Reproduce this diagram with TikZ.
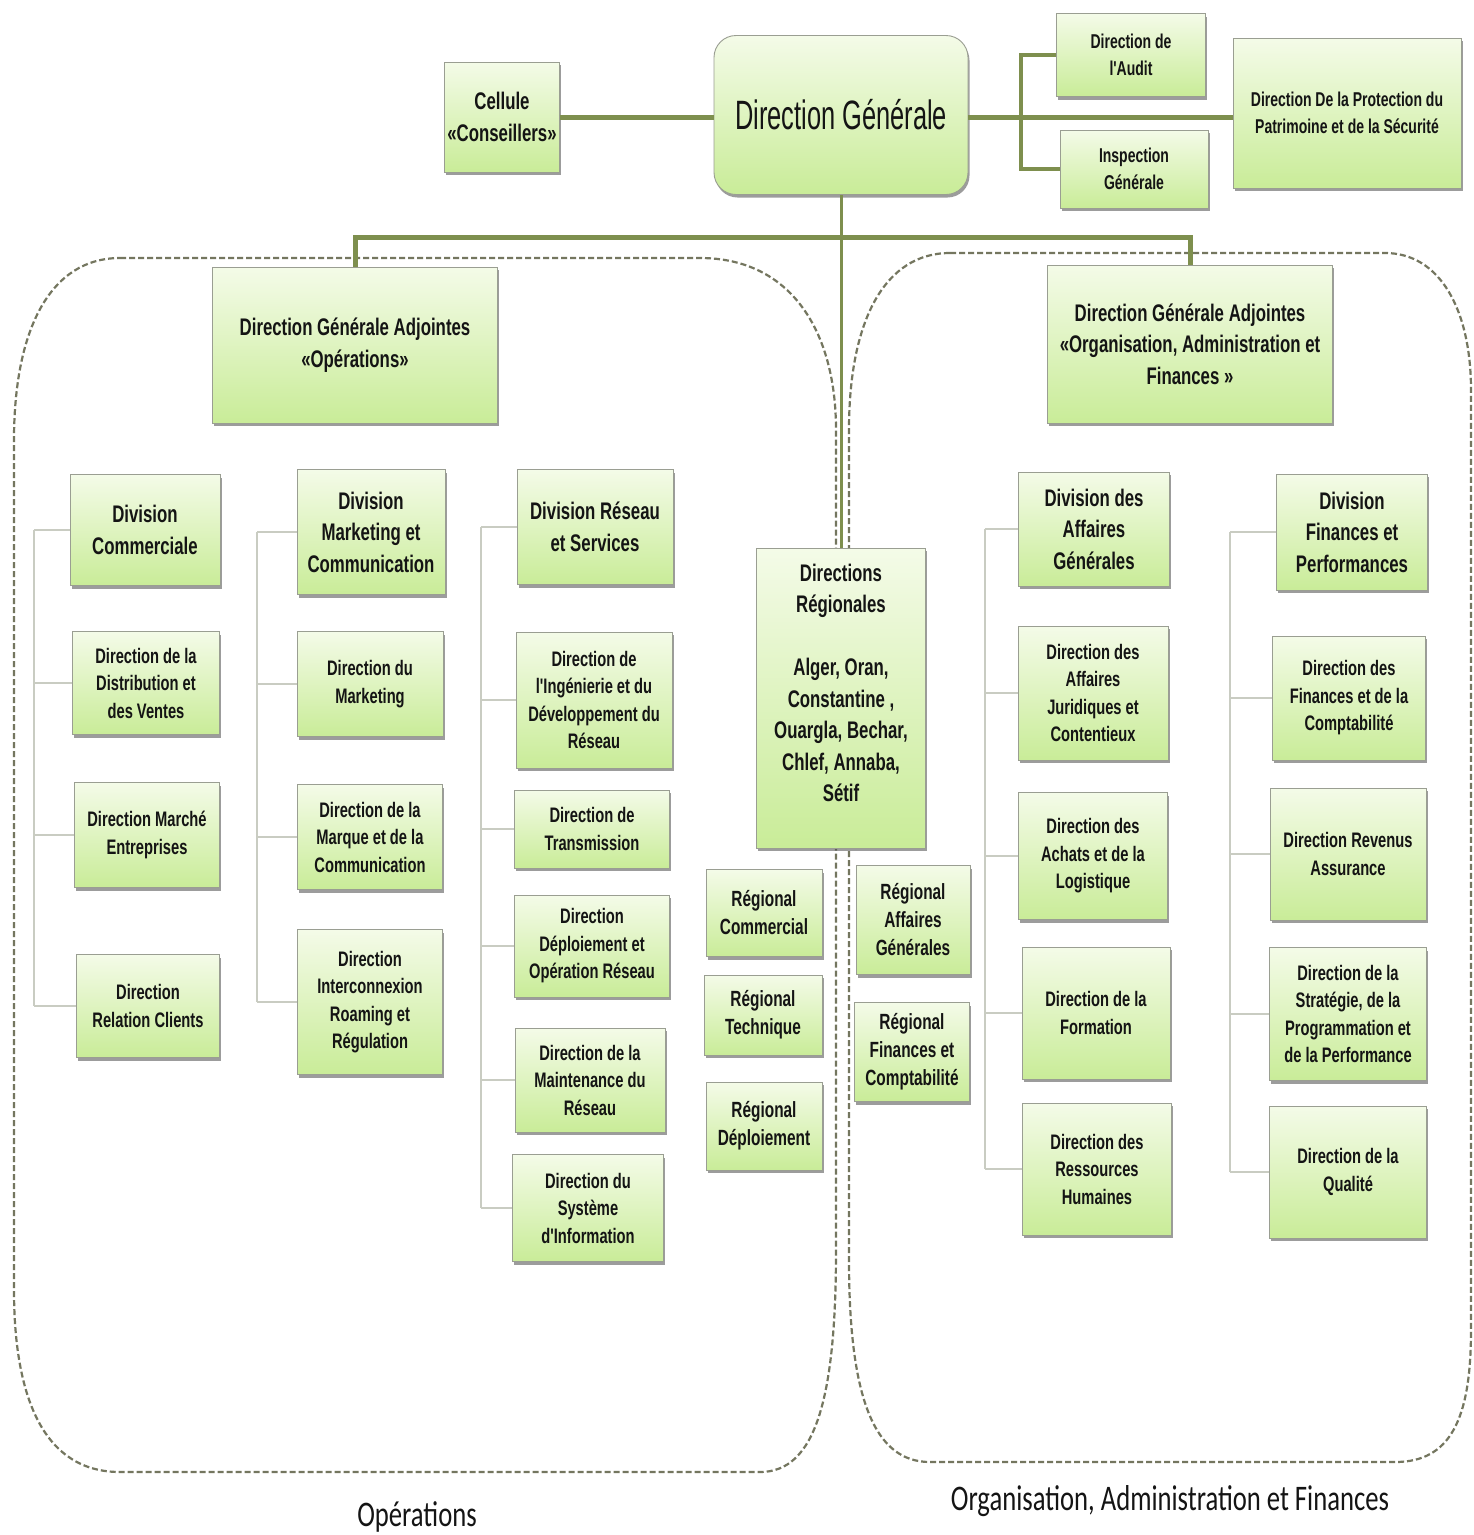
\documentclass[tikz,border=0pt]{standalone}
\usepackage{fontspec}
\setmainfont{Liberation Sans}
\newfontfamily\boxfam{Liberation Sans}[FakeStretch=0.7]
\newfontfamily\dgfam{Liberation Sans}[FakeStretch=0.62]
\newfontfamily\capfam{Carlito}[FakeStretch=0.74]
\usetikzlibrary{shadows}

\definecolor{boxtop}{HTML}{F4FBE8}
\definecolor{boxbot}{HTML}{C9EC98}
\definecolor{boxedge}{HTML}{9A9E92}
\definecolor{inkblack}{HTML}{141414}
\definecolor{linkolive}{HTML}{7E8F4E}
\definecolor{treegray}{HTML}{C9CCC2}
\definecolor{dashgray}{HTML}{74765F}

\tikzset{
  unit/.style={draw=boxedge, line width=0.9pt, top color=boxtop, bottom color=boxbot,
    align=center, text=inkblack, inner sep=2pt,
    drop shadow={shadow xshift=1.5pt, shadow yshift=-3pt, fill=black!70, opacity=0.55}},
  txtL/.style={font=\boxfam\bfseries\fontsize{24}{31.5}\selectfont},
  txtM/.style={font=\boxfam\bfseries\fontsize{22}{28}\selectfont},
  txtS/.style={font=\boxfam\bfseries\fontsize{21}{27.5}\selectfont},
  txtT/.style={font=\boxfam\bfseries\fontsize{20}{27}\selectfont},
  region/.style={draw=dashgray, line width=2.2pt, dash pattern=on 6pt off 3pt},
  heavy/.style={draw=linkolive, line width=5pt},
  medium/.style={draw=linkolive, line width=3.5pt},
  stem/.style={draw=linkolive, line width=3pt},
  tree/.style={draw=treegray, line width=2pt},
  caption/.style={font=\capfam\fontsize{36}{40}\selectfont, text=inkblack}
}

\begin{document}
\begin{tikzpicture}[x=1pt, y=-1pt]
\useasboundingbox (0,0) rectangle (1474,1535);
\fill[white] (0,0) rectangle (1474,1535);

% dashed groupings
\draw[region] (120,258) -- (700,258) .. controls (790,258) and (836,330) .. (836,430)
  -- (836,1250) .. controls (836,1400) and (815,1472) .. (760,1472)
  -- (120,1472) .. controls (45,1472) and (14,1400) .. (14,1290)
  -- (14,440) .. controls (14,330) and (50,258) .. (120,258) -- cycle;
\draw[region] (950,253) -- (1385,253) .. controls (1440,253) and (1471,310) .. (1471,390)
  -- (1471,1330) .. controls (1471,1420) and (1450,1462) .. (1395,1462)
  -- (930,1462) .. controls (875,1462) and (849,1400) .. (849,1260)
  -- (849,430) .. controls (849,320) and (885,253) .. (950,253) -- cycle;

% top level
\node[unit, rounded corners=22pt, minimum width=254, minimum height=159,
  font=\dgfam\fontsize{41}{46}\selectfont] (dg) at (841,115) {Direction Générale};
\node[unit, txtL, minimum width=115, minimum height=110] (cons) at (502,117) {Cellule\\«Conseillers»};
\node[unit, txtT, minimum width=149, minimum height=83] (audit) at (1131,55) {Direction de\\l'Audit};
\node[unit, txtT, minimum width=148, minimum height=78] (insp) at (1134,169) {Inspection\\Générale};
\node[unit, txtT, minimum width=228, minimum height=150] (prot) at (1347,113) {Direction De la Protection du\\Patrimoine et de la Sécurité};

% deputy general directions
\node[unit, txtL, minimum width=285, minimum height=156] (dgaop) at (355,345) {Direction Générale Adjointes\\«Opérations»};
\node[unit, txtL, minimum width=285, minimum height=158] (dgaof) at (1190,344) {Direction Générale Adjointes\\«Organisation, Administration et\\Finances »};

% commercial division
\node[unit, txtL, minimum width=150, minimum height=111] (dc) at (145,530) {Division\\Commerciale};
\node[unit, txtS, minimum width=147, minimum height=103] (ddv) at (146,683) {Direction de la\\Distribution et\\des Ventes};
\node[unit, txtS, minimum width=145, minimum height=105] (dme) at (147,835) {Direction Marché\\Entreprises};
\node[unit, txtS, minimum width=143, minimum height=103] (drc) at (148,1006) {Direction\\Relation Clients};

% marketing division
\node[unit, txtL, minimum width=148, minimum height=125] (dmc) at (371,532) {Division\\Marketing et\\Communication};
\node[unit, txtS, minimum width=146, minimum height=105] (dmk) at (370,684) {Direction du\\Marketing};
\node[unit, txtS, minimum width=145, minimum height=105] (dmq) at (370,837) {Direction de la\\Marque et de la\\Communication};
\node[unit, txtS, minimum width=145, minimum height=145] (dirr) at (370,1002) {Direction\\Interconnexion\\Roaming et\\Régulation};

% network division
\node[unit, txtL, minimum width=156, minimum height=115] (drs) at (595,527) {Division Réseau\\et Services};
\node[unit, txtS, minimum width=156, minimum height=136] (dide) at (594,700) {Direction de\\l'Ingénierie et du\\Développement du\\Réseau};
\node[unit, txtS, minimum width=155, minimum height=78] (dtr) at (592,829) {Direction de\\Transmission};
\node[unit, txtS, minimum width=155, minimum height=102] (ddor) at (592,946) {Direction\\Déploiement et\\Opération Réseau};
\node[unit, txtS, minimum width=150, minimum height=104] (dmr) at (590,1080) {Direction de la\\Maintenance du\\Réseau};
\node[unit, txtS, minimum width=151, minimum height=107] (dsi) at (588,1208) {Direction du\\Système\\d'Information};

% regional directions
\node[unit, txtL, minimum width=169, minimum height=300, text depth=30pt] (dreg) at (841,698) {Directions\\Régionales\\[31.5pt]Alger, Oran,\\Constantine ,\\Ouargla, Bechar,\\Chlef, Annaba,\\Sétif};
\node[unit, txtM, minimum width=116, minimum height=87] (rcom) at (764,913) {Régional\\Commercial};
\node[unit, txtM, minimum width=118, minimum height=80] (rtech) at (763,1015) {Régional\\Technique};
\node[unit, txtM, minimum width=116, minimum height=88] (rdep) at (764,1126) {Régional\\Déploiement};
\node[unit, txtM, minimum width=114, minimum height=109] (raff) at (913,920) {Régional\\Affaires\\Générales};
\node[unit, txtM, minimum width=115, minimum height=99] (rfin) at (912,1052) {Régional\\Finances et\\Comptabilité};

% general affairs division
\node[unit, txtL, minimum width=151, minimum height=114] (dag) at (1094,529) {Division des\\Affaires\\Générales};
\node[unit, txtS, minimum width=150, minimum height=134] (daj) at (1093,693) {Direction des\\Affaires\\Juridiques et\\Contentieux};
\node[unit, txtS, minimum width=149, minimum height=127] (dal) at (1093,856) {Direction des\\Achats et de la\\Logistique};
\node[unit, txtS, minimum width=148, minimum height=132] (dfo) at (1096,1013) {Direction de la\\Formation};
\node[unit, txtS, minimum width=149, minimum height=132] (drh) at (1097,1169) {Direction des\\Ressources\\Humaines};

% finance division
\node[unit, txtL, minimum width=151, minimum height=116] (dfp) at (1352,532) {Division\\Finances et\\Performances};
\node[unit, txtS, minimum width=153, minimum height=124] (dfc) at (1349,698) {Direction des\\Finances et de la\\Comptabilité};
\node[unit, txtS, minimum width=156, minimum height=132] (dra) at (1348,854) {Direction Revenus\\Assurance};
\node[unit, txtS, minimum width=157, minimum height=133] (dsp) at (1348,1014) {Direction de la\\Stratégie, de la\\Programmation et\\de la Performance};
\node[unit, txtS, minimum width=157, minimum height=132] (dq) at (1348,1172) {Direction de la\\Qualité};

% captions
\node[caption] (lop) at (417,1517) {Opérations};
\node[caption] (loaf) at (1170,1501) {Organisation, Administration et Finances};

% top connectors
\coordinate (hl) at (0,117);
\draw[heavy] (cons.east) -- (cons.east -| dg.west);
\draw[heavy] (dg.east |- hl) -- (prot.west |- hl);
\coordinate (bk) at (1021,117);
\draw[medium] (audit.west) -- (audit.west -| bk) -- (insp.west -| bk) -- (insp.west);
\draw[stem] (dg.south) -- (dg.south |- dreg.north);
\draw[heavy] (dgaop.north) -- ++(0,-29) -| (dgaof.north);

% column spines
\coordinate (s1) at (34,0);
\coordinate (s2) at (257,0);
\coordinate (s3) at (481,0);
\coordinate (s4) at (985,0);
\coordinate (s5) at (1230,0);
\draw[tree] (dc.west -| s1) -- (drc.west -| s1);
\foreach \n in {dc,ddv,dme,drc} \draw[tree] (\n.west) -- (\n.west -| s1);
\draw[tree] (dmc.west -| s2) -- (dirr.west -| s2);
\foreach \n in {dmc,dmk,dmq,dirr} \draw[tree] (\n.west) -- (\n.west -| s2);
\draw[tree] (drs.west -| s3) -- (dsi.west -| s3);
\foreach \n in {drs,dide,dtr,ddor,dmr,dsi} \draw[tree] (\n.west) -- (\n.west -| s3);
\draw[tree] (dag.west -| s4) -- (drh.west -| s4);
\foreach \n in {dag,daj,dal,dfo,drh} \draw[tree] (\n.west) -- (\n.west -| s4);
\draw[tree] (dfp.west -| s5) -- (dq.west -| s5);
\foreach \n in {dfp,dfc,dra,dsp,dq} \draw[tree] (\n.west) -- (\n.west -| s5);
\end{tikzpicture}
\end{document}
